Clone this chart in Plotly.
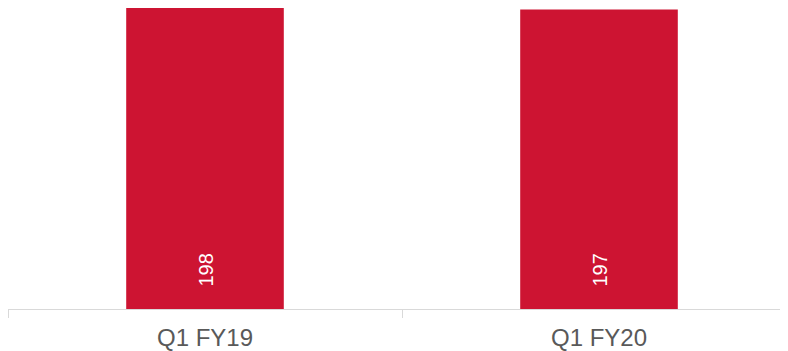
import plotly.graph_objects as go

# data
quarters = ["Q1 FY19", "Q1 FY20"]
values = [198, 197]

BAR_COLOR = "#CD1432"
AXIS_GRAY = "#D9D9D9"
LABEL_GRAY = "#595959"
FONT = "Liberation Sans, Arial, sans-serif"

fig = go.Figure()

fig.add_trace(go.Bar(
    x=quarters,
    y=values,
    width=0.4,
    marker=dict(color=BAR_COLOR, line=dict(width=0)),
    hoverinfo="x+y",
))

# value labels, rotated, near the bottom of each bar
for q, v in zip(quarters, values):
    fig.add_annotation(
        x=q, y=0,
        text=str(v),
        textangle=-90,
        showarrow=False,
        xanchor="center",
        yanchor="bottom",
        yshift=20,
        font=dict(family=FONT, size=20, color="white"),
    )

fig.update_layout(
    width=788,
    height=351,
    margin=dict(l=0, r=0, t=0, b=50),
    paper_bgcolor="white",
    plot_bgcolor="white",
    showlegend=False,
    font=dict(family=FONT),
)

fig.update_xaxes(
    type="category",
    range=[-0.5, 1.5],
    showline=True,
    linecolor=AXIS_GRAY,
    linewidth=1,
    ticks="outside",
    tickson="boundaries",
    ticklen=8,
    tickcolor=AXIS_GRAY,
    ticklabelstandoff=7,
    tickfont=dict(family=FONT, size=24, color=LABEL_GRAY),
    showgrid=False,
    zeroline=False,
)

fig.update_yaxes(
    range=[0, 198],
    visible=False,
    showgrid=False,
    zeroline=False,
)

fig.write_html("out.html")
